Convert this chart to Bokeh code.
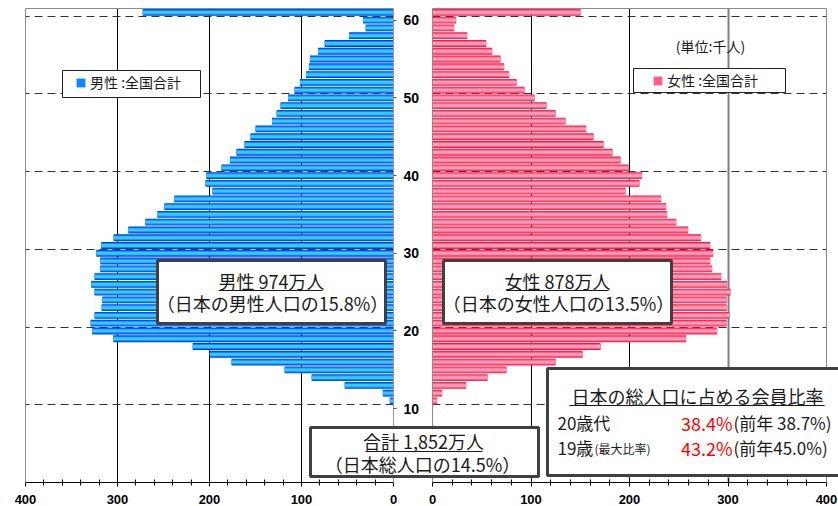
from bokeh.plotting import figure
from bokeh.models import (Range1d, LinearAxis, FixedTicker, Grid, BoxAnnotation,
                          Label, Legend, LegendItem, ColumnDataSource)
from bokeh.embed import file_html
from bokeh.resources import INLINE

# ---------------- data (thousand persons) ----------------
ages = list(range(11, 62))
male = [4.0, 11.6, 53.0, 88.9, 118.3, 176.0, 199.7, 218.2, 304.5,
        327.4, 329.2, 324.9, 317.2, 316.5, 324.9, 328.5, 324.9, 318.7, 318.7,
        323.0, 317.6, 304.2, 288.2, 269.7, 256.6, 249.0, 238.1, 196.7, 204.3,
        203.3, 186.9, 177.8, 170.6, 161.9, 155.4, 149.9, 132.1, 127.0, 122.7,
        114.7, 107.5, 101.7, 95.1, 91.9, 90.8, 82.1, 74.8, 48.3, 30.2, 33.1,
        272.6]
female = [4.7, 9.8, 34.2, 55.8, 75.1, 124.9, 152.3, 170.6, 257.5,
          289.0, 298.5, 301.2, 298.5, 298.5, 302.5, 299.1, 293.1, 283.9, 281.9,
          284.9, 281.9, 272.7, 259.5, 247.4, 238.2, 237.2, 232.1, 195.9, 210.1,
          212.8, 199.0, 190.9, 182.7, 173.6, 163.4, 156.0, 135.0, 124.9, 115.7,
          103.6, 93.4, 85.3, 77.8, 72.7, 69.0, 60.6, 54.5, 35.2, 22.0, 24.0,
          150.2]
x_ticks = [0, 100, 200, 300, 400]
x_minor = list(range(0, 401, 20))
age_ticks = [10, 20, 30, 40, 50, 60]
grid_ages = [a + 0.5 for a in age_ticks]

male_label = "男性 :全国合計"
female_label = "女性 :全国合計"

# ---------------- layout constants (page pixels) ----------------
CW, CH = 838, 506
FL, FR, FT, FB = 25, 826, 8, 482
M400, M0 = 25, 393
F0, F400 = 432, 826
Y_LO, Y_HI = 0.5, 61.5
mpx = (M0 - M400) / 400.0
fpx = (F400 - F0) / 400.0

def fx(px):
    return (px - F0) / fpx

def fy(py):
    return Y_LO + (FB - py) * (Y_HI - Y_LO) / (FB - FT)

JP = "Noto Sans CJK JP"
TXT = "#1a1a1a"

p = figure(width=CW, height=CH,
           x_range=Range1d(M0 / mpx, (M0 - CW) / mpx),
           y_range=Range1d(fy(CH), fy(0)),
           output_backend="svg", toolbar_location=None,
           x_axis_location=None, y_axis_location=None,
           min_border=0, min_border_left=0, min_border_right=0,
           min_border_top=0, min_border_bottom=0,
           outline_line_color=None, background_fill_color="white",
           border_fill_color="white")
p.extra_x_ranges = {"female": Range1d(-F0 / fpx, (CW - F0) / fpx)}
for g in p.grid:
    g.visible = False

src = ColumnDataSource(dict(age=ages, male=male, female=female))

# ---------------- grids ----------------
def vgrid(rname, ticks, color, width):
    g = Grid(dimension=0, ticker=FixedTicker(ticks=ticks), cross_bounds=(Y_LO, Y_HI),
             grid_line_color=color, grid_line_width=width)
    if rname:
        g.x_range_name = rname
    p.add_layout(g)

vgrid(None, [100, 200, 300], "black", 1)
vgrid("female", [100, 200], "black", 1)
vgrid("female", [300], "#808080", 2)

for rname in (None, "female"):
    g = Grid(dimension=1, ticker=FixedTicker(ticks=grid_ages), cross_bounds=(0, 400),
             grid_line_color="#333333", grid_line_width=1, grid_line_dash="8 5")
    if rname:
        g.x_range_name = rname
    p.add_layout(g)

# ---------------- bars ----------------
m_layers = [(0.88, "#0a36ee"), (0.66, "#0a88ff"), (0.36, "#36ccff")]
f_layers = [(0.88, "#ff1a3c"), (0.66, "#ff5c86"), (0.36, "#ff9fbe")]
m_rs, f_rs = [], []
for h, c in m_layers:
    m_rs.append(p.hbar(y="age", left=0, right="male", height=h, source=src,
                       fill_color=c, line_color=None))
for h, c in f_layers:
    f_rs.append(p.hbar(y="age", left=0, right="female", height=h, source=src,
                       fill_color=c, line_color=None, x_range_name="female"))

# ---------------- axes ----------------
def xaxis(rname):
    ax = LinearAxis(ticker=FixedTicker(ticks=x_ticks, minor_ticks=x_minor),
                    bounds=(0, 400), fixed_location=Y_LO,
                    axis_line_color="black", major_tick_line_color="black",
                    minor_tick_line_color="black",
                    major_tick_in=4, major_tick_out=4, minor_tick_in=3, minor_tick_out=3,
                    major_label_text_font="Liberation Sans",
                    major_label_text_font_style="bold",
                    major_label_text_font_size="13px",
                    major_label_text_color="black",
                    major_label_standoff=8)
    if rname:
        ax.x_range_name = rname
    p.add_layout(ax, "below")

xaxis(None)
xaxis("female")

ay = LinearAxis(ticker=FixedTicker(ticks=age_ticks), fixed_location=0,
                bounds=(Y_LO, Y_HI),
                axis_line_color="#9a9a9a", major_tick_in=0, major_tick_out=3,
                major_tick_line_color="#555555", minor_tick_in=0, minor_tick_out=0,
                major_label_text_font="Liberation Sans",
                major_label_text_font_style="bold",
                major_label_text_font_size="14px",
                major_label_text_color="black",
                major_label_standoff=7)
p.add_layout(ay, "right")

def border(side, rname, loc, bounds):
    ax = LinearAxis(ticker=FixedTicker(ticks=[]), fixed_location=loc, bounds=bounds,
                    axis_line_color="#8c8c8c", axis_line_width=1,
                    major_tick_in=0, major_tick_out=0, minor_tick_in=0, minor_tick_out=0)
    if rname:
        ax.x_range_name = rname
    p.add_layout(ax, side)

border("left", None, 400, (Y_LO, Y_HI))
border("left", "female", 0, (Y_LO, Y_HI))
border("right", "female", 400, (Y_LO, Y_HI))
border("above", None, Y_HI, (0, 400))
border("above", "female", Y_HI, (0, 400))

# ---------------- legends ----------------
def legend_box(l, r, t, b):
    p.add_layout(BoxAnnotation(left=fx(l), right=fx(r), top=fy(t), bottom=fy(b),
                               x_range_name="female", fill_color="white", fill_alpha=1,
                               line_color="#222222", line_alpha=1, line_width=1))

legend_box(62, 200, 70, 97)
legend_box(633, 785, 68, 92)

def add_legend(label, rend, gx, gy_bottom):
    leg = Legend(items=[LegendItem(label=label, renderers=[rend])],
                 location=(gx, CH - gy_bottom), border_line_color=None,
                 background_fill_alpha=0, padding=0, margin=0,
                 glyph_width=11, glyph_height=11, label_height=11, label_standoff=4,
                 label_text_font=JP, label_text_font_size="14px",
                 label_text_color=TXT)
    p.add_layout(leg)

add_legend(male_label, m_rs[1], 75, 92)
add_legend(female_label, f_rs[1], 652, 90)

p.add_layout(Label(x=fx(710), y=fy(45), x_range_name="female", text="(単位:千人)",
                   text_align="center", text_baseline="middle", text_font=JP,
                   text_font_size="14px", text_color=TXT))

# ---------------- annotation boxes ----------------
def box(l, r, t, b):
    p.add_layout(BoxAnnotation(left=fx(l), right=fx(r), top=fy(t), bottom=fy(b),
                               x_range_name="female", fill_color="white", fill_alpha=1,
                               line_color="#404040", line_alpha=1, line_width=3))

def text(px, py, s, size="18px", align="center", color=TXT):
    p.add_layout(Label(x=fx(px), y=fy(py), x_range_name="female", text=s,
                       text_align=align, text_baseline="middle", text_font=JP,
                       text_font_size=size, text_color=color))

box(157, 385, 260, 323)
text(271, 280, "男性 974万人")
text(272, 302, "（日本の男性人口の15.8%）")

box(443, 671, 260, 323)
text(557, 280, "女性 878万人")
text(558, 302, "（日本の女性人口の13.5%）")

box(310, 538, 427, 476)
text(423, 440, "合計 1,852万人")
text(422, 463, "（日本総人口の14.5%）")

box(547, 860, 368, 475)
text(697, 395, "日本の総人口に占める会員比率", size="18px")
text(557, 422, "20歳代", align="left", size="17px")
text(732, 422, "38.4%", align="right", color="#ff0000", size="18px")
text(733, 422, "(前年 38.7%)", align="left", size="17px")
text(557, 447, "19歳", align="left", size="17px")
text(594, 448, "(最大比率)", align="left", size="12px")
text(732, 447, "43.2%", align="right", color="#ff0000", size="18px")
text(733, 447, "(前年45.0%)", align="left", size="17px")

# underlines
ul_x0 = [fx(218), fx(506), fx(365), fx(569)]
ul_x1 = [fx(322), fx(608), fx(482), fx(824)]
ul_y = [fy(290), fy(290), fy(451), fy(405)]
p.segment(x0=ul_x0, y0=ul_y, x1=ul_x1, y1=ul_y, x_range_name="female",
          line_color=TXT, line_width=1, level="overlay")

open("out.html", "w").write(file_html(p, INLINE))
